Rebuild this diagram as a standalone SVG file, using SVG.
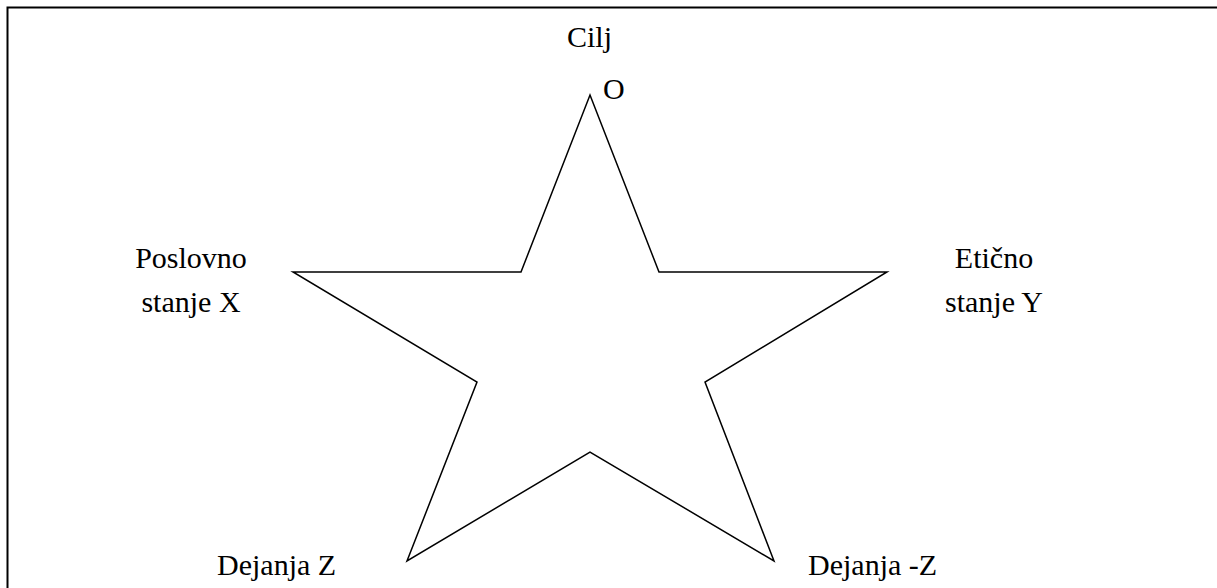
<svg xmlns="http://www.w3.org/2000/svg" width="1217" height="588" viewBox="0 0 1217 588">
<style>
.t{font-family:'Times New Roman',Times,'Liberation Serif','DejaVu Serif',serif;font-size:30px;fill:#000}
.s{fill:none;stroke:#000;stroke-width:1.5;stroke-linejoin:miter}
</style>
<rect width="1217" height="588" fill="#fff"/>
<path d="M7.5,588 V7.5 H1217" fill="none" stroke="#000" stroke-width="2"/>
<g id="star">
<polygon class="s" points="590,95 659,272 887,272 705,382 774,561 590,452 407,561 477,382 293,272 521,272"/>
</g>
<g id="label-cilj"><text class="t" x="567" y="47">Cilj</text><text class="t" x="603" y="99">O</text></g>
<g id="label-x"><text class="t" x="191" y="268" text-anchor="middle">Poslovno</text><text class="t" x="191" y="312" text-anchor="middle">stanje X</text></g>
<g id="label-y"><text class="t" x="994" y="268" text-anchor="middle">Etično</text><text class="t" x="994" y="312" text-anchor="middle">stanje Y</text></g>
<g id="label-z"><text class="t" x="217" y="575">Dejanja Z</text></g>
<g id="label-mz"><text class="t" x="808" y="575" font-family="DejaVu Serif">Dejanja -Z</text></g>
</svg>
